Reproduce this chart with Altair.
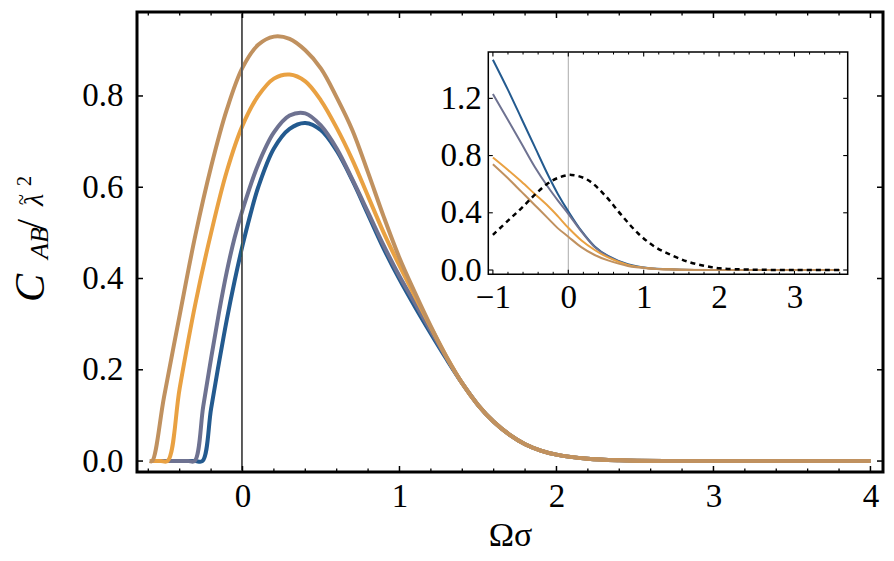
import altair as alt
import pandas as pd

FONT = "Liberation Serif"

series = ["blue", "gray", "orange", "tan"]
colors = ["#235a8f", "#6e7291", "#e9a142", "#c0915f"]

# ---- main panel values ----
tail_x = [1.5, 1.6, 1.7, 1.8, 1.9, 2.0, 2.2, 2.4, 2.7, 3.2, 4.0]
tail_y = [0.123, 0.086, 0.058, 0.037, 0.023, 0.014, 0.005, 0.0015, 0.0, 0.0, 0.0]

blue_x = [-0.59, -0.45, -0.35, -0.3, -0.255, -0.2, -0.15, -0.1, -0.05, 0.0, 0.05, 0.1, 0.2, 0.3, 0.4, 0.5, 0.6, 0.7, 0.8, 0.9, 1.0, 1.1, 1.2, 1.3, 1.4]
blue_y = [0.0, 0.0, 0.0, 0.0, 0.0, 0.115, 0.215, 0.31, 0.395, 0.472, 0.54, 0.6, 0.685, 0.728, 0.741, 0.725, 0.68, 0.615, 0.54, 0.465, 0.398, 0.337, 0.279, 0.223, 0.17]

gray_x = [-0.59, -0.45, -0.39, -0.345, -0.305, -0.25, -0.2, -0.15, -0.1, -0.05, 0.0, 0.1, 0.2, 0.3, 0.4, 0.5, 0.6, 0.7, 0.8, 0.9, 1.0, 1.1, 1.2, 1.3, 1.4]
gray_y = [0.0, 0.0, 0.0, 0.0, 0.0, 0.12, 0.225, 0.325, 0.415, 0.49, 0.55, 0.65, 0.72, 0.757, 0.762, 0.735, 0.685, 0.617, 0.545, 0.472, 0.405, 0.345, 0.285, 0.226, 0.17]

orange_x = [-0.59, -0.56, -0.52, -0.477, -0.4, -0.3, -0.2, -0.1, 0.0, 0.1, 0.2, 0.3, 0.4, 0.5, 0.6, 0.7, 0.8, 0.9, 1.0, 1.1, 1.2, 1.3, 1.4]
orange_y = [0.0, 0.0, 0.0, 0.0, 0.16, 0.345, 0.5, 0.635, 0.735, 0.8, 0.838, 0.847, 0.832, 0.79, 0.73, 0.66, 0.58, 0.5, 0.428, 0.36, 0.293, 0.228, 0.17]

tan_x = [-0.59, -0.575, -0.5, -0.4, -0.3, -0.2, -0.1, 0.0, 0.1, 0.2, 0.3, 0.4, 0.5, 0.6, 0.7, 0.8, 0.9, 1.0, 1.1, 1.2, 1.3, 1.4]
tan_y = [0.0, 0.0, 0.14, 0.32, 0.495, 0.645, 0.77, 0.862, 0.912, 0.93, 0.925, 0.9, 0.86, 0.797, 0.725, 0.632, 0.535, 0.445, 0.368, 0.295, 0.228, 0.17]

# ---- inset values ----
inset_x = [-1.0, -0.8, -0.623, -0.446, -0.269, -0.137, 0.0, 0.172, 0.35, 0.527, 0.79, 1.057, 1.4, 2.0, 2.8, 3.6]
inset_blue = [1.47, 1.259, 1.061, 0.862, 0.664, 0.53, 0.41, 0.275, 0.165, 0.098, 0.040, 0.014, 0.004, 0.0, 0.0, 0.0]
inset_gray = [1.23, 1.049, 0.886, 0.722, 0.58, 0.485, 0.393, 0.27, 0.16, 0.095, 0.036, 0.013, 0.004, 0.0, 0.0, 0.0]
inset_orange = [0.786, 0.699, 0.618, 0.532, 0.447, 0.375, 0.295, 0.208, 0.14, 0.088, 0.036, 0.013, 0.004, 0.0, 0.0, 0.0]
inset_tan = [0.739, 0.641, 0.548, 0.455, 0.361, 0.291, 0.233, 0.16, 0.105, 0.067, 0.028, 0.011, 0.003, 0.0, 0.0, 0.0]

dash_x = [-1.0, -0.8, -0.623, -0.446, -0.269, -0.13, 0.04, 0.26, 0.483, 0.703, 0.924, 1.146, 1.366, 1.588, 1.8, 2.01, 2.4, 3.0, 3.6]
dash_y = [0.245, 0.345, 0.431, 0.525, 0.606, 0.645, 0.665, 0.629, 0.524, 0.385, 0.257, 0.163, 0.105, 0.058, 0.03, 0.012, 0.003, 0.0, 0.0]

main_x_labels = [0, 1, 2, 3, 4]
main_x_minor = [v for v in [round(-0.6 + 0.2 * i, 1) for i in range(24)] if abs(v - round(v)) > 1e-6]
main_y_labels = [0.0, 0.2, 0.4, 0.6, 0.8]
inset_x_labels = [-1, 0, 1, 2, 3]
inset_x_minor = [v for v in [round(-1.0 + 0.2 * i, 1) for i in range(24)] if abs(v - round(v)) > 1e-6]
inset_y_labels = [0.0, 0.4, 0.8, 1.2]

# ---- tables ----
rows = []
for name, xs, ys in [("blue", blue_x + tail_x, blue_y + tail_y),
                     ("gray", gray_x + tail_x, gray_y + tail_y),
                     ("orange", orange_x + tail_x, orange_y + tail_y),
                     ("tan", tan_x + tail_x, tan_y + tail_y)]:
    for i, (a, b) in enumerate(zip(xs, ys)):
        rows.append({"s": name, "x": a, "y": b, "i": i})
main_df = pd.DataFrame(rows)

irows = []
for name, ys in [("blue", inset_blue), ("gray", inset_gray),
                 ("orange", inset_orange), ("tan", inset_tan)]:
    for i, (a, b) in enumerate(zip(inset_x, ys)):
        irows.append({"s": name, "x": a, "y": b, "i": i})
inset_df = pd.DataFrame(irows)
dash_df = pd.DataFrame({"x": dash_x, "y": dash_y})

W, H = 746, 460
MX = [-0.672, 4.08]
MY = [-0.024, 0.984]
IX = [-1.061, 3.706]
IY = [-0.03, 1.524]
IXR = [351.3, 710.7]
IYR = [262.3, 40.0]
LBL = 33

color_enc = alt.Color("s:N", scale=alt.Scale(domain=series, range=colors), legend=None)
msx = alt.Scale(domain=MX, nice=False, zero=False)
msy = alt.Scale(domain=MY, nice=False, zero=False)
isx = alt.Scale(domain=IX, range=IXR, nice=False, zero=False)
isy = alt.Scale(domain=IY, range=IYR, nice=False, zero=False)

mx = alt.X("x:Q", scale=msx,
           axis=alt.Axis(values=main_x_labels, format="d", title="Ωσ", ticks=False, tickSize=0,
                         labelPadding=8, labelFont=FONT, labelFontSize=LBL,
                         labelColor="black", labelOverlap=False,
                         titleFont=FONT, titleFontSize=34, titleFontWeight="normal",
                         titleColor="black", titlePadding=5))
my = alt.Y("y:Q", scale=msy,
           axis=alt.Axis(values=main_y_labels, format=".1f", title=None, ticks=False,
                         tickSize=0, labelPadding=14, labelFont=FONT, labelFontSize=LBL,
                         labelColor="black", labelOverlap=False))

main_lines = alt.Chart(main_df).mark_line(strokeWidth=4, interpolate="catmull-rom").encode(
    x=mx, y=my, color=color_enc, order="i:Q")

main_zero = alt.Chart(main_df).mark_rule(color="#666666", strokeWidth=1).encode(
    x=alt.datum(0, scale=msx, type="quantitative"))


def xticks(values, scale, y0, y1, width):
    return alt.Chart(pd.DataFrame({"x": values})).mark_rule(
        color="black", strokeWidth=width).encode(
        x=alt.X("x:Q", scale=scale), y=alt.value(y0), y2=alt.value(y1))


def yticks(values, scale, x0, x1, width):
    return alt.Chart(pd.DataFrame({"y": values})).mark_rule(
        color="black", strokeWidth=width).encode(
        y=alt.Y("y:Q", scale=scale), x=alt.value(x0), x2=alt.value(x1))


main_ticks = alt.layer(
    xticks(main_x_labels, msx, H - 6, H, 1.5),
    xticks(main_x_minor, msx, H - 3.5, H, 1.3),
    xticks(main_x_labels, msx, 0, 6, 1.5),
    xticks(main_x_minor, msx, 0, 3.5, 1.3),
    yticks(main_y_labels, msy, 0, 6, 1.5),
    yticks(main_y_labels, msy, W - 6, W, 1.5),
)


# y title pieces (rotated text)
def piece(txt, px, py, size, style="normal"):
    return alt.Chart(alt.Data(values=[{}])).mark_text(
        text=txt, angle=270, align="left", baseline="alphabetic", font=FONT,
        fontSize=size, fontStyle=style, color="black").encode(
        x=alt.value(px), y=alt.value(py))


title_parts = alt.layer(
    piece("C", -93, 290, 42, "italic"),
    piece("AB", -89, 247, 26, "italic"),
    piece("/", -93, 218, 40),
    piece("λ", -94, 194, 28, "italic"),
    piece("~", -109, 193, 20),
    piece("2", -106, 174, 20),
)

main = alt.layer(main_lines, main_zero, main_ticks, title_parts)

# ---- inset ----
ix_axis = alt.Axis(values=inset_x_labels, format="d", title=None, orient="bottom",
                   ticks=False, tickSize=0, offset=-(H - IYR[0]), labelPadding=7,
                   labelFont=FONT, labelFontSize=LBL, labelColor="black",
                   labelOverlap=False, zindex=2)
iy_axis = alt.Axis(values=inset_y_labels, format=".1f", title=None, orient="left",
                   ticks=False, tickSize=0, offset=-IXR[0], labelPadding=7,
                   labelFont=FONT, labelFontSize=LBL, labelColor="black",
                   labelOverlap=False, zindex=2)

frame = alt.Chart(alt.Data(values=[{}])).mark_rect(
    fill="white", stroke="black", strokeWidth=1.5).encode(
    x=alt.datum(IX[0], scale=isx, axis=ix_axis, type="quantitative"),
    x2=alt.datum(IX[1]),
    y=alt.datum(IY[0], scale=isy, axis=iy_axis, type="quantitative"),
    y2=alt.datum(IY[1]),
)
inset_zero = alt.Chart(alt.Data(values=[{}])).mark_rule(color="#aaaaaa", strokeWidth=1).encode(
    x=alt.datum(0, scale=isx, type="quantitative"),
    y=alt.datum(IY[0], scale=isy, type="quantitative"),
    y2=alt.datum(IY[1]))

ib, it = IYR[0], IYR[1]
inset_ticks = alt.layer(
    xticks(inset_x_labels, isx, ib - 4.5, ib, 1.1),
    xticks(inset_x_minor, isx, ib - 2.5, ib, 1.0),
    xticks(inset_x_labels, isx, it, it + 4.5, 1.1),
    xticks(inset_x_minor, isx, it, it + 2.5, 1.0),
    yticks(inset_y_labels, isy, IXR[0], IXR[0] + 4.5, 1.1),
    yticks(inset_y_labels, isy, IXR[1] - 4.5, IXR[1], 1.1),
)

inset_lines = alt.Chart(inset_df).mark_line(strokeWidth=2, interpolate="catmull-rom").encode(
    x=alt.X("x:Q", scale=isx), y=alt.Y("y:Q", scale=isy), color=color_enc, order="i:Q")
inset_dash = alt.Chart(dash_df).mark_line(strokeWidth=2.5, color="black", strokeDash=[5, 4],
                                          interpolate="catmull-rom").encode(
    x=alt.X("x:Q", scale=isx), y=alt.Y("y:Q", scale=isy))

inset = alt.layer(frame, inset_zero, inset_ticks, inset_lines, inset_dash)

chart = alt.layer(main, inset).resolve_scale(x="independent", y="independent").properties(
    width=W, height=H, padding={"left": 129, "top": 4, "right": 3, "bottom": 81},
    autosize=alt.AutoSizeParams(type="none"),
).configure(
    background="white"
).configure_view(
    stroke="black", strokeWidth=3
).configure_axis(
    labelFont=FONT, labelFontSize=LBL, labelColor="black", labelOverlap=False,
    titleFont=FONT, titleColor="black", grid=False, domain=False, ticks=False,
)

chart.save("out.html", embed_options={"renderer": "svg", "actions": False})
